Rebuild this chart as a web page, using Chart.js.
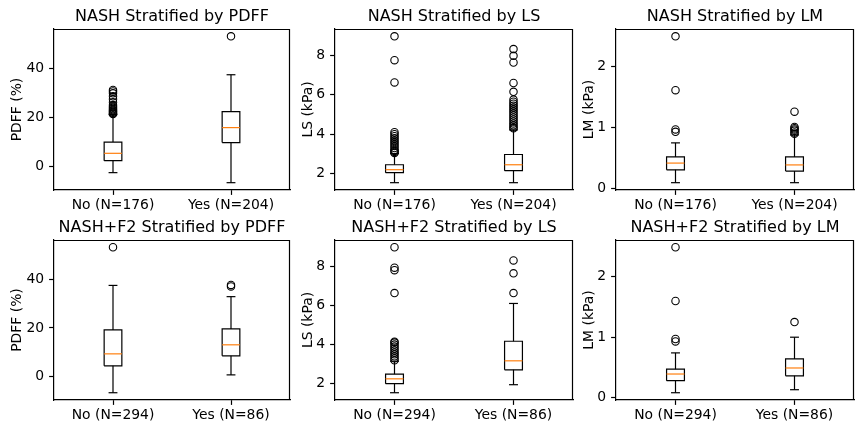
<!DOCTYPE html>
<html>
<head>
<meta charset="utf-8">
<script src="https://cdn.jsdelivr.net/npm/chart.js@4.4.0/dist/chart.umd.min.js"></script>
<style>
  html, body { margin: 0; padding: 0; background: #fff; }
  body { width: 864px; height: 432px; position: relative; overflow: hidden; }
  canvas { position: absolute; }
</style>
</head>
<body>
<script>
// ===================================
// Data
// ===================================

const panelTitles = [
    'NASH Stratified by PDFF', 'NASH Stratified by LS', 'NASH Stratified by LM',
    'NASH+F2 Stratified by PDFF', 'NASH+F2 Stratified by LS', 'NASH+F2 Stratified by LM'
];
const yAxisLabels = ['PDFF (%)', 'LS (kPa)', 'LM (kPa)', 'PDFF (%)', 'LS (kPa)', 'LM (kPa)'];
const nashGroups = ['No (N=176)', 'Yes (N=204)'];
const f2Groups = ['No (N=294)', 'Yes (N=86)'];

const pdffTicks = [0, 20, 40];
const lsTicks = [2, 4, 6, 8];
const lmTicks = [0, 1, 2];

// box stats per group: [lower whisker, q1, median, q3, upper whisker]
const nashPdffBoxes = [[-2.6, 2.3, 5.3, 9.9, 21.1], [-6.7, 9.7, 15.8, 22.3, 37.4]];
const nashPdffFliers = [
    [21.4, 21.6, 21.9, 22.3, 22.6, 23.0, 23.4, 23.9, 24.4, 25.0, 26.2, 27.4, 28.6, 29.8, 30.6, 31.2],
    [53.1]
];
const nashLsBoxes = [[1.54, 2.05, 2.2, 2.45, 3.02], [1.54, 2.15, 2.45, 2.97, 4.22]];
const nashLsFliers = [
    [3.05, 3.1, 3.15, 3.2, 3.3, 3.4, 3.5, 3.6, 3.7, 3.8, 3.9, 4.0, 4.1, 6.63, 7.76, 8.97],
    [4.3, 4.36, 4.45, 4.55, 4.65, 4.75, 4.85, 4.95, 5.05, 5.15, 5.25, 5.35, 5.45, 5.55, 5.65, 5.76,
     6.15, 6.6, 7.64, 7.98, 8.32]
];
const nashLmBoxes = [[0.1, 0.31, 0.42, 0.52, 0.75], [0.1, 0.29, 0.39, 0.52, 0.88]];
const nashLmFliers = [[0.93, 0.97, 1.61, 2.49], [0.9, 0.92, 0.95, 0.97, 0.99, 1.01, 1.26]];

const f2PdffBoxes = [[-6.5, 4.5, 9.4, 19.2, 37.4], [0.8, 8.6, 13.1, 19.6, 32.8]];
const f2PdffFliers = [[53.0], [37.0, 37.6]];
const f2LsBoxes = [[1.54, 2.0, 2.25, 2.49, 3.15], [1.95, 2.71, 3.17, 4.17, 6.1]];
const f2LsFliers = [
    [3.2, 3.3, 3.4, 3.5, 3.6, 3.7, 3.8, 3.9, 4.0, 4.1, 4.15, 6.63, 7.8, 7.93, 8.97],
    [6.63, 7.64, 8.3]
];
const f2LmBoxes = [[0.08, 0.28, 0.39, 0.47, 0.74], [0.13, 0.36, 0.49, 0.64, 1.0]];
const f2LmFliers = [[0.93, 0.97, 1.6, 2.49], [1.25]];

// ===================================
// Layout / style
// ===================================

const FONT = 'DejaVu Sans';
const LINE_W = 1.2;
const BOX_HALF = 0.075;   // matplotlib default box width 0.15
const CAP_HALF = 0.0375;
const TICK_LEN = 4.9;
const Y_AXIS_W = 54;
const X_AXIS_H = 30;
const TITLE_H = 29;

const colLeft = [54, 335, 616];
const colRight = [290, 573, 854];
const rowTop = [29, 240];
const rowBottom = [190, 400];
const yTitlePad = [8.7, 18.7, 18.7];

Chart.defaults.font.family = FONT;
Chart.defaults.color = '#000';

// top and right spines (Chart.js only draws the axis side)
const boxFrame = {
    id: 'boxFrame',
    afterDraw(chart) {
        const { ctx, chartArea } = chart;
        const l = Math.round(chartArea.left);
        const t = Math.round(chartArea.top) + 0.5;
        const r = Math.round(chartArea.right) - 0.5;
        const b = Math.round(chartArea.bottom);
        ctx.save();
        ctx.strokeStyle = '#000';
        ctx.lineWidth = LINE_W;
        ctx.beginPath();
        ctx.moveTo(l, t);
        ctx.lineTo(r, t);
        ctx.lineTo(r, b);
        ctx.stroke();
        ctx.restore();
    }
};

function seg(points, color) {
    return {
        data: points,
        showLine: true,
        borderColor: color,
        borderWidth: LINE_W,
        pointRadius: 0,
        fill: false,
        tension: 0
    };
}

function buildDatasets(boxes, fliers) {
    const sets = [];
    boxes.forEach((b, g) => {
        const p = g + 1;
        const [lo, q1, med, q3, hi] = b;
        sets.push(seg([{ x: p - BOX_HALF, y: med }, { x: p + BOX_HALF, y: med }], '#ff7f0e'));
        sets.push(seg([
            { x: p - BOX_HALF, y: q1 }, { x: p + BOX_HALF, y: q1 },
            { x: p + BOX_HALF, y: q3 }, { x: p - BOX_HALF, y: q3 },
            { x: p - BOX_HALF, y: q1 }
        ], '#000'));
        sets.push(seg([{ x: p, y: q1 }, { x: p, y: lo }], '#000'));
        sets.push(seg([{ x: p, y: q3 }, { x: p, y: hi }], '#000'));
        sets.push(seg([{ x: p - CAP_HALF, y: lo }, { x: p + CAP_HALF, y: lo }], '#000'));
        sets.push(seg([{ x: p - CAP_HALF, y: hi }, { x: p + CAP_HALF, y: hi }], '#000'));
        sets.push({
            data: fliers[g].map(v => ({ x: p, y: v })),
            showLine: false,
            pointStyle: 'circle',
            pointRadius: 3.7,
            pointBorderWidth: 1.1,
            pointBorderColor: '#000',
            pointBackgroundColor: 'rgba(0,0,0,0)'
        });
    });
    return sets;
}

function dataRange(boxes, fliers) {
    const all = boxes.flat().concat(fliers.flat());
    const lo = Math.min(...all);
    const hi = Math.max(...all);
    const m = (hi - lo) * 0.05;
    return [lo - m, hi + m];
}

function makePanel(index, groups, boxes, fliers, yTicks) {
    const col = index % 3;
    const row = Math.floor(index / 3);
    const left = colLeft[col] - Y_AXIS_W;
    const top = rowTop[row] - TITLE_H;
    const width = colRight[col] - colLeft[col] + Y_AXIS_W + 8;
    const height = rowBottom[row] - rowTop[row] + TITLE_H + X_AXIS_H;

    const canvas = document.createElement('canvas');
    canvas.width = width;
    canvas.height = height;
    canvas.style.left = left + 'px';
    canvas.style.top = top + 'px';
    canvas.style.width = width + 'px';
    canvas.style.height = height + 'px';
    document.body.appendChild(canvas);

    const [yMin, yMax] = dataRange(boxes, fliers);
    const tickFont = { family: FONT, size: 13.9 };
    const grid = {
        display: true,
        drawOnChartArea: false,
        drawTicks: true,
        tickLength: TICK_LEN,
        tickColor: '#000',
        tickWidth: LINE_W
    };
    const border = { display: true, color: '#000', width: LINE_W };

    new Chart(canvas, {
        type: 'scatter',
        data: { datasets: buildDatasets(boxes, fliers) },
        options: {
            responsive: false,
            animation: false,
            layout: { padding: { left: 0, right: 8, top: 0, bottom: 0 } },
            plugins: {
                legend: { display: false },
                tooltip: { enabled: false },
                title: {
                    display: true,
                    text: panelTitles[index],
                    fullSize: false,
                    color: '#000',
                    font: { family: FONT, size: 16, weight: 'normal', lineHeight: 1.2 },
                    padding: { top: 7, bottom: 2.8 }
                }
            },
            scales: {
                x: {
                    type: 'linear',
                    min: 0.5,
                    max: 2.5,
                    afterBuildTicks: s => { s.ticks = [{ value: 1 }, { value: 2 }]; },
                    afterFit: s => { s.height = X_AXIS_H; },
                    ticks: {
                        font: tickFont,
                        color: '#000',
                        padding: 2.5,
                        maxRotation: 0,
                        autoSkip: false,
                        callback: (v, i) => groups[i]
                    },
                    grid: grid,
                    border: border
                },
                y: {
                    type: 'linear',
                    min: yMin,
                    max: yMax,
                    afterBuildTicks: s => { s.ticks = yTicks.map(v => ({ value: v })); },
                    afterFit: s => { s.width = Y_AXIS_W; },
                    ticks: {
                        font: tickFont,
                        color: '#000',
                        padding: TICK_LEN,
                        autoSkip: false,
                        callback: v => String(v)
                    },
                    title: {
                        display: true,
                        text: yAxisLabels[index],
                        color: '#000',
                        font: { family: FONT, size: 13.9, lineHeight: 1.2 },
                        padding: { top: yTitlePad[col], bottom: 0 }
                    },
                    grid: grid,
                    border: border
                }
            }
        },
        plugins: [boxFrame]
    });
}

makePanel(0, nashGroups, nashPdffBoxes, nashPdffFliers, pdffTicks);
makePanel(1, nashGroups, nashLsBoxes, nashLsFliers, lsTicks);
makePanel(2, nashGroups, nashLmBoxes, nashLmFliers, lmTicks);
makePanel(3, f2Groups, f2PdffBoxes, f2PdffFliers, pdffTicks);
makePanel(4, f2Groups, f2LsBoxes, f2LsFliers, lsTicks);
makePanel(5, f2Groups, f2LmBoxes, f2LmFliers, lmTicks);
</script>
</body>
</html>
